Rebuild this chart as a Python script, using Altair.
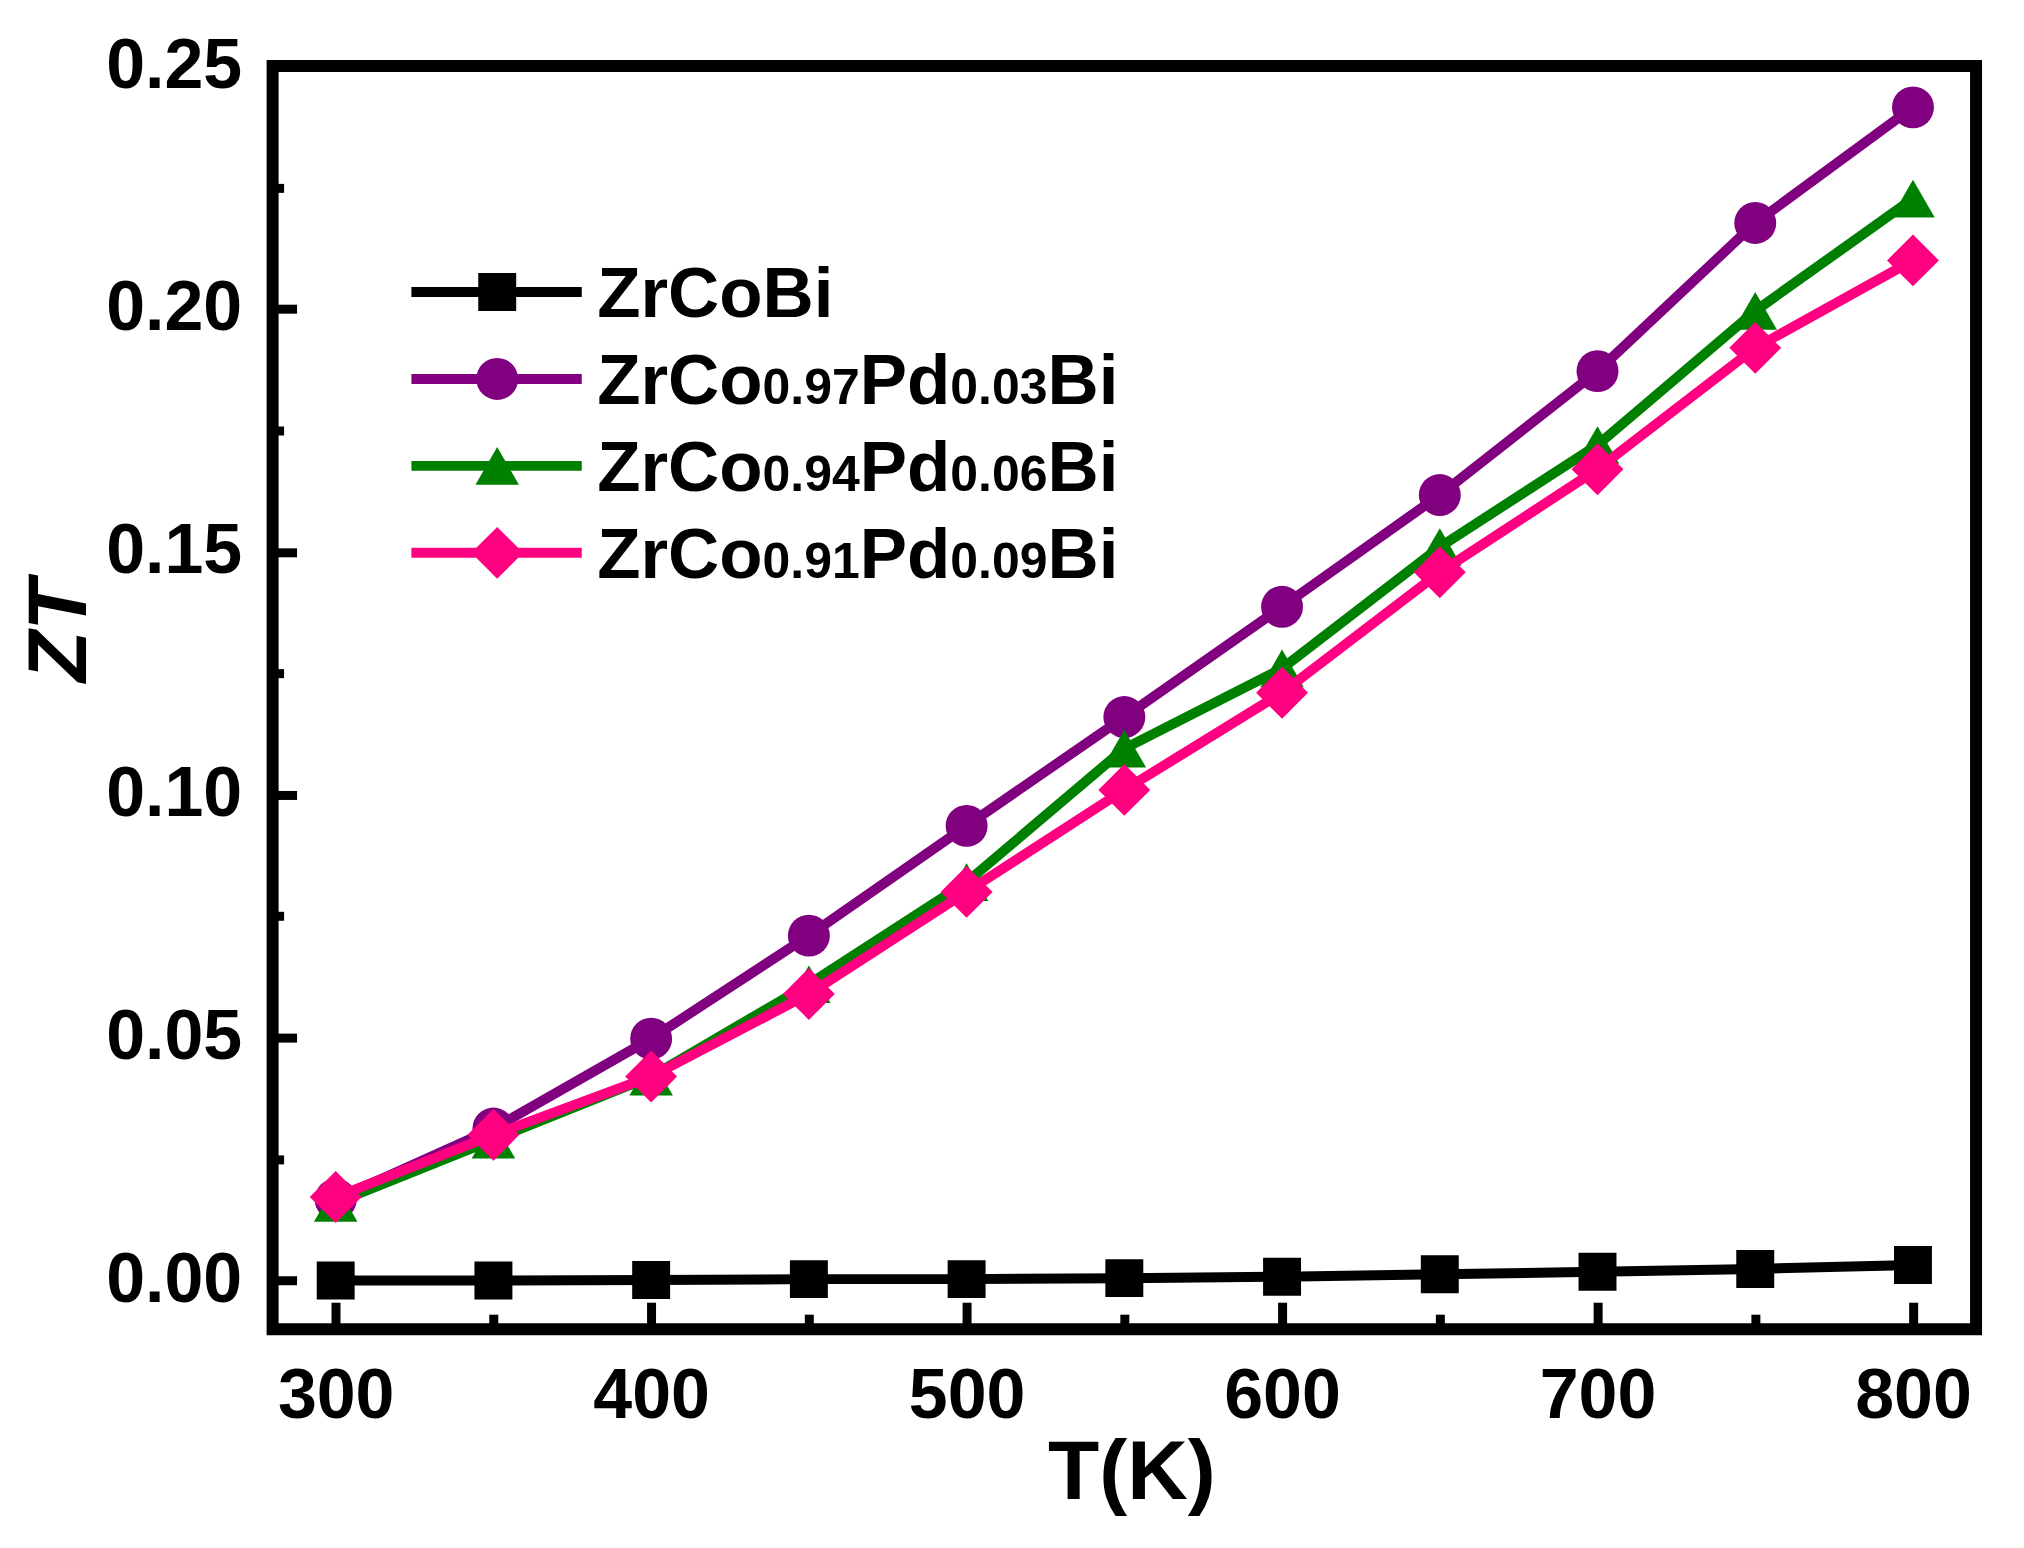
import altair as alt
import pandas as pd

# ---------------- data ----------------
T = [300, 350, 400, 450, 500, 550, 600, 650, 700, 750, 800]
zt_zrcobi = [0.0000, 0.0000, 0.0001, 0.0003, 0.0003, 0.0005, 0.0008, 0.0013, 0.0018, 0.0024, 0.0032]
zt_pd003 = [0.0167, 0.0313, 0.0498, 0.0710, 0.0936, 0.1160, 0.1387, 0.1617, 0.1872, 0.2177, 0.2415]
zt_pd006 = [0.0160, 0.0290, 0.0420, 0.0610, 0.0820, 0.1095, 0.1260, 0.1510, 0.1720, 0.1996, 0.2227]
zt_pd009 = [0.0172, 0.0300, 0.0420, 0.0590, 0.0800, 0.1010, 0.1210, 0.1458, 0.1670, 0.1920, 0.2100]

series_names = ["ZrCoBi", "ZrCo0.97Pd0.03Bi", "ZrCo0.94Pd0.06Bi", "ZrCo0.91Pd0.09Bi"]
series_values = [zt_zrcobi, zt_pd003, zt_pd006, zt_pd009]
# legend label pieces: (text, is_subscript)
legend_pieces = [
    [("ZrCoBi", False)],
    [("ZrCo", False), ("0.97", True), ("Pd", False), ("0.03", True), ("Bi", False)],
    [("ZrCo", False), ("0.94", True), ("Pd", False), ("0.06", True), ("Bi", False)],
    [("ZrCo", False), ("0.91", True), ("Pd", False), ("0.09", True), ("Bi", False)],
]
x_major = [300, 400, 500, 600, 700, 800]
x_minor = [350, 450, 550, 650, 750]
y_major = [0.0, 0.05, 0.10, 0.15, 0.20, 0.25]
y_minor = [0.025, 0.075, 0.125, 0.175, 0.225]

# ---------------- styles ----------------
colors = ["#000000", "#800080", "#008000", "#FF0080"]
shapes = ["square", "circle", "triangle-up", "diamond"]
sizes = [1444, 1764, 1900, 2700]
FONT = "Liberation Sans"
W, H = 1706, 1265
X_DOM = [280, 820]
Y_DOM = [-0.01, 0.25]
PX_PER_X = W / (X_DOM[1] - X_DOM[0])
MAIN_FS, SUB_FS = 71, 50

xs = alt.Scale(domain=X_DOM, nice=False, zero=False)
ys = alt.Scale(domain=Y_DOM, nice=False, zero=False)

rows = []
for name, vals in zip(series_names, series_values):
    for t, v in zip(T, vals):
        rows.append({"series": name, "T": t, "ZT": v})
df = pd.DataFrame(rows)

common_axis = dict(domain=False, grid=False, tickColor="black", tickWidth=9,
                   labelFont=FONT, labelFontWeight="bold", labelFontSize=70,
                   labelColor="black", titleFont=FONT, titleFontWeight="bold",
                   titleColor="black", titleFontSize=84)

ax_x_major = alt.Axis(orient="bottom", values=x_major, format="d", tickSize=27, offset=-27,
                      labelPadding=33, labelFlush=False, title="T(K)", titleX=860, titleY=197,
                      titleBaseline="alphabetic", **common_axis)
ax_y_major = alt.Axis(orient="left", values=y_major, format=".2f", tickSize=24, offset=-24,
                      labelPadding=31, labelFlush=False, title="ZT", titleFontStyle="italic",
                      titleAngle=270, titleBaseline="alphabetic", titleX=-211, titleY=565,
                      **common_axis)
ax_x_minor = alt.Axis(orient="bottom", values=x_minor, labels=False, tickSize=15, offset=-15,
                      title="", **common_axis)
ax_y_minor = alt.Axis(orient="left", values=y_minor, labels=False, tickSize=11, offset=-11,
                      title="", **common_axis)

base = alt.Chart(df)
layers = []
for i, name in enumerate(series_names):
    sub = base.transform_filter(alt.datum.series == name)
    if i == 0:
        xl = alt.X("T:Q", scale=xs, axis=ax_x_major)
        yl = alt.Y("ZT:Q", scale=ys, axis=ax_y_major)
        xp = alt.X("T:Q", scale=xs, axis=ax_x_minor)
        yp = alt.Y("ZT:Q", scale=ys, axis=ax_y_minor)
    else:
        xl = xp = alt.X("T:Q", scale=xs, axis=None)
        yl = yp = alt.Y("ZT:Q", scale=ys, axis=None)
    layers.append(sub.mark_line(color=colors[i], strokeWidth=10).encode(x=xl, y=yl))
    layers.append(sub.mark_point(shape=shapes[i], size=sizes[i], filled=True, opacity=1,
                                 color=colors[i]).encode(x=xp, y=yp))

# ---------------- legend (drawn inside the plot) ----------------
LEG_X0, LEG_X1, LEG_XM, LEG_XT = 324.0, 378.0, 351.2, 382.9
LEG_Y0, LEG_DY = 0.2035, 0.0179
char_w = {"Z": 0.611, "r": 0.389, "C": 0.722, "o": 0.611, "B": 0.722, "i": 0.278,
          "P": 0.667, "d": 0.611, ".": 0.278}
leg_rows, leg_text = [], []
for i, name in enumerate(series_names):
    yv = LEG_Y0 - i * LEG_DY
    leg_rows.append({"x0": LEG_X0, "x1": LEG_X1, "xm": LEG_XM, "y": yv, "color": colors[i],
                     "shape": shapes[i], "size": sizes[i]})
    cur = 0.0
    for txt, is_sub in legend_pieces[i]:
        fs = SUB_FS if is_sub else MAIN_FS
        leg_text.append({"x": LEG_XT + cur / PX_PER_X, "y": yv, "text": txt, "fs": fs})
        cur += sum(char_w.get(c, 0.556) for c in txt) * fs
leg_df = pd.DataFrame(leg_rows)
leg_tdf = pd.DataFrame(leg_text)

lx = alt.X("x0:Q", scale=xs, axis=None)
ly = alt.Y("y:Q", scale=ys, axis=None)
layers.append(alt.Chart(leg_df).mark_rule(strokeWidth=10).encode(
    x=lx, x2="x1:Q", y=ly, color=alt.Color("color:N", scale=None)))
layers.append(alt.Chart(leg_df).mark_point(filled=True, opacity=1).encode(
    x=alt.X("xm:Q", scale=xs, axis=None), y=ly,
    color=alt.Color("color:N", scale=None),
    shape=alt.Shape("shape:N", scale=None),
    size=alt.Size("size:Q", scale=None)))
layers.append(alt.Chart(leg_tdf).mark_text(font=FONT, fontWeight="bold", align="left",
                                           baseline="alphabetic", dy=25, color="black").encode(
    x=alt.X("x:Q", scale=xs, axis=None), y=alt.Y("y:Q", scale=ys, axis=None),
    text="text:N", size=alt.Size("fs:Q", scale=None)))

chart = alt.layer(*layers).resolve_axis(x="independent", y="independent").properties(
    width=W, height=H,
    padding={"left": 265, "top": 57, "right": 40, "bottom": 200},
    autosize=alt.AutoSizeParams(type="none"),
    background="white",
).configure_view(stroke="black", strokeWidth=12)

chart.save("out.html", embed_options={"renderer": "svg", "actions": False})
